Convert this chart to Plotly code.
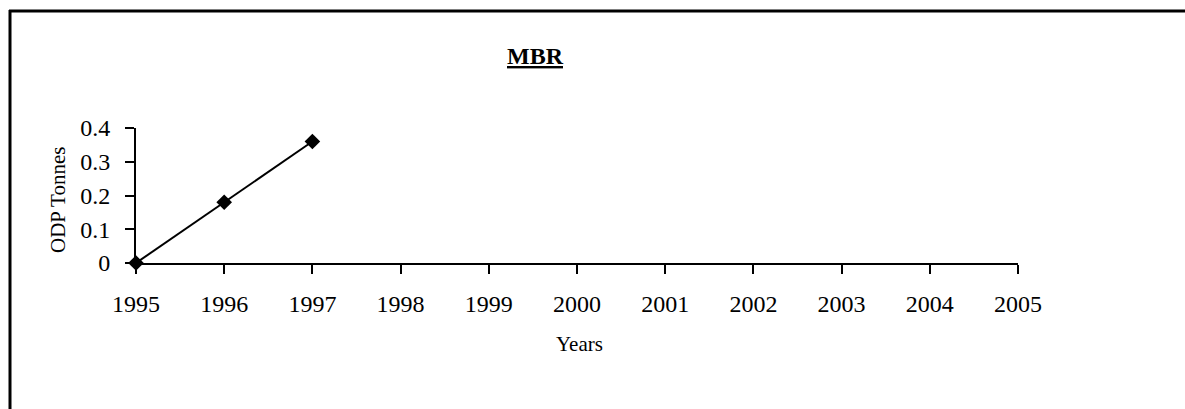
import plotly.graph_objects as go

years = [1995, 1996, 1997]
odp_tonnes = [0, 0.18, 0.36]
x_ticks = list(range(1995, 2006))
y_ticks = [0, 0.1, 0.2, 0.3, 0.4]
y_tick_labels = ["0", "0.1", "0.2", "0.3", "0.4"]

font = "Liberation Serif"
W, H = 1185, 409
L, R, T, B = 136, 1018, 128, 263   # plot area in pixels


def px(x):
    return (x - L) / (R - L)


def py(y):
    return (B - y) / (B - T)


fig = go.Figure()
fig.add_trace(go.Scatter(
    x=years, y=odp_tonnes, mode="lines+markers",
    line=dict(color="black", width=2),
    marker=dict(symbol="diamond", size=12, color="black"),
    cliponaxis=False, showlegend=False,
))

axis_style = dict(showgrid=False, zeroline=False, showline=True, linecolor="black", linewidth=2,
                  ticks="outside", ticklen=9, tickwidth=2, tickcolor="black",
                  tickfont=dict(family=font, size=24, color="black"))

fig.update_layout(
    width=W, height=H,
    margin=dict(l=L, r=W - R, t=T, b=H - B, autoexpand=False),
    paper_bgcolor="white", plot_bgcolor="white",
    font=dict(family=font, color="black"),
    xaxis=dict(range=[1995, 2005], tickvals=x_ticks, ticktext=[str(v) for v in x_ticks],
               ticklabelstandoff=9, **axis_style),
    yaxis=dict(range=[0, 0.4], tickvals=y_ticks, ticktext=y_tick_labels,
               ticklabelstandoff=10, **axis_style),
    annotations=[
        dict(text="<b><u>MBR</u></b>", x=px(535), y=py(56), xref="paper", yref="paper",
             xanchor="center", yanchor="middle",
             showarrow=False, font=dict(size=24, family=font)),
        dict(text="Years", x=px(579), y=py(344), xref="paper", yref="paper",
             xanchor="center", yanchor="middle",
             showarrow=False, font=dict(size=21, family=font)),
        dict(text="ODP Tonnes", x=px(58), y=py(200), xref="paper", yref="paper", textangle=-90,
             xanchor="center", yanchor="middle",
             showarrow=False, font=dict(size=21, family=font)),
    ],
    shapes=[
        dict(type="line", xref="paper", yref="paper", x0=px(9), x1=px(W),
             y0=py(11), y1=py(11), line=dict(color="black", width=3)),
        dict(type="line", xref="paper", yref="paper", x0=px(10), x1=px(10),
             y0=py(H), y1=py(10), line=dict(color="black", width=3)),
    ],
)

fig.write_html("out.html", config={"displayModeBar": False},
               post_script="document.body.style.margin='0px';")
